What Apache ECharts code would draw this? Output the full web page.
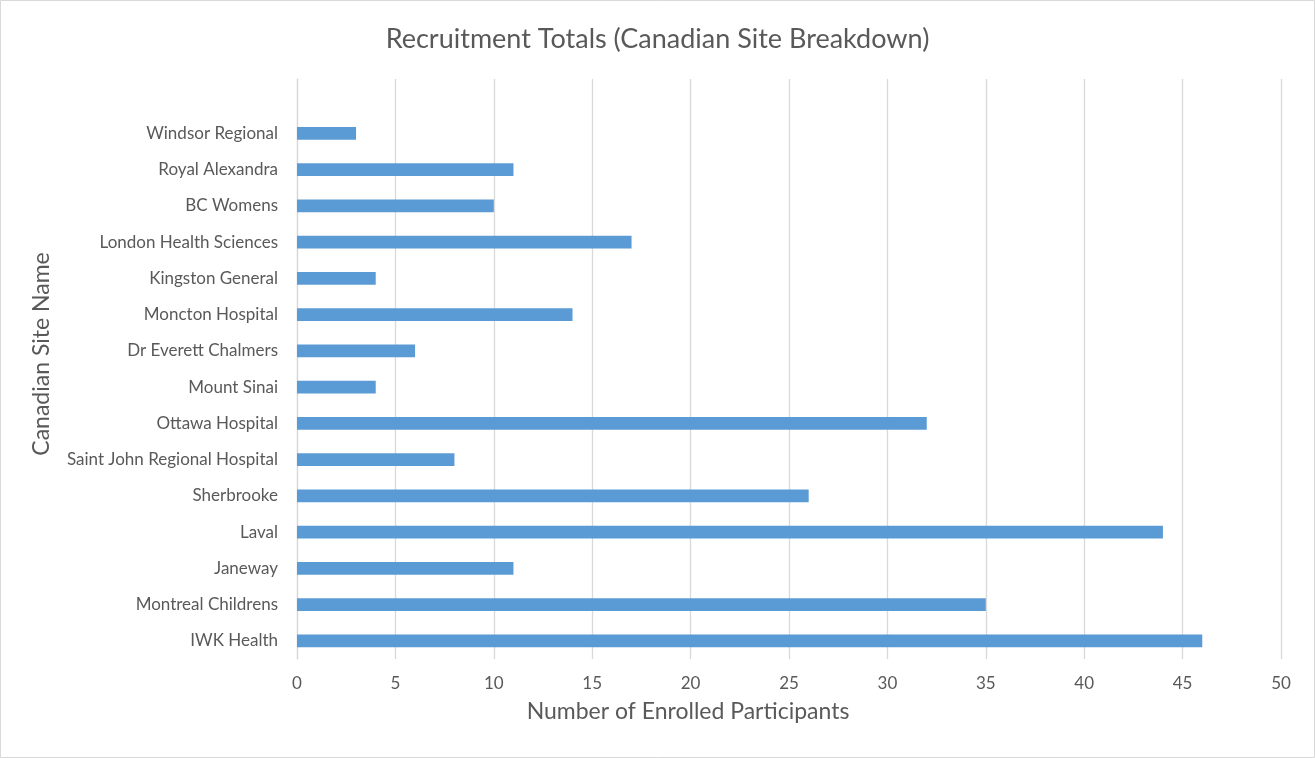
<!DOCTYPE html>
<html>
<head>
<meta charset="utf-8">
<script src="https://cdn.jsdelivr.net/npm/echarts@6/dist/echarts.min.js"></script>
<style>
html,body{margin:0;padding:0;background:#fff;}
#chart{width:1315px;height:758px;}
</style>
</head>
<body>
<div id="chart"></div>
<script>
// Top to bottom; the first row is an empty category in the source sheet
const categories = ['', 'Windsor Regional', 'Royal Alexandra', 'BC Womens', 'London Health Sciences',
  'Kingston General', 'Moncton Hospital', 'Dr Everett Chalmers', 'Mount Sinai', 'Ottawa Hospital',
  'Saint John Regional Hospital', 'Sherbrooke', 'Laval', 'Janeway', 'Montreal Childrens', 'IWK Health'];
const participants = [null, 3, 11, 10, 17, 4, 14, 6, 4, 32, 8, 26, 44, 11, 35, 46];
const xTicks = [0, 50, 5]; // min, max, interval

const FONT = 'Lato';
const chart = echarts.init(document.getElementById('chart'));
chart.setOption({
  backgroundColor: '#fff',
  animation: false,
  title: {
    text: 'Recruitment Totals (Canadian Site Breakdown)',
    left: 'center',
    top: 21,
    textStyle: { fontFamily: FONT, fontSize: 27, fontWeight: 'normal', color: '#595959' }
  },
  graphic: [{
    type: 'rect', shape: { x: 0.5, y: 0.5, width: 1314, height: 757 },
    style: { fill: 'none', stroke: '#d9d9d9', lineWidth: 1 }, silent: true
  }],
  grid: { left: 297, right: 34, top: 79, bottom: 99 },
  xAxis: {
    type: 'value', min: xTicks[0], max: xTicks[1], interval: xTicks[2],
    name: 'Number of Enrolled Participants',
    nameLocation: 'middle', nameGap: 41,
    nameTextStyle: { fontFamily: FONT, fontSize: 23, color: '#595959', padding: [0, 202, 0, 0] },
    axisLine: { show: false }, axisTick: { show: false },
    axisLabel: { fontFamily: FONT, fontSize: 17, color: '#595959', margin: 16 },
    splitLine: { lineStyle: { color: '#d9d9d9', width: 1.3 } }
  },
  yAxis: {
    type: 'category', data: categories, inverse: true,
    name: 'Canadian Site Name',
    nameLocation: 'middle', nameGap: 244,
    nameTextStyle: { fontFamily: FONT, fontSize: 23, color: '#595959', padding: [0, 0, 0, 30] },
    axisLine: { show: true, lineStyle: { color: '#d9d9d9', width: 1.3 } },
    axisTick: { show: false },
    axisLabel: { fontFamily: FONT, fontSize: 17, color: '#595959', margin: 19 },
    splitLine: { show: false }
  },
  series: [{
    type: 'bar', data: participants, barWidth: '35%',
    itemStyle: { color: '#5b9bd5' }
  }]
});
</script>
</body>
</html>
